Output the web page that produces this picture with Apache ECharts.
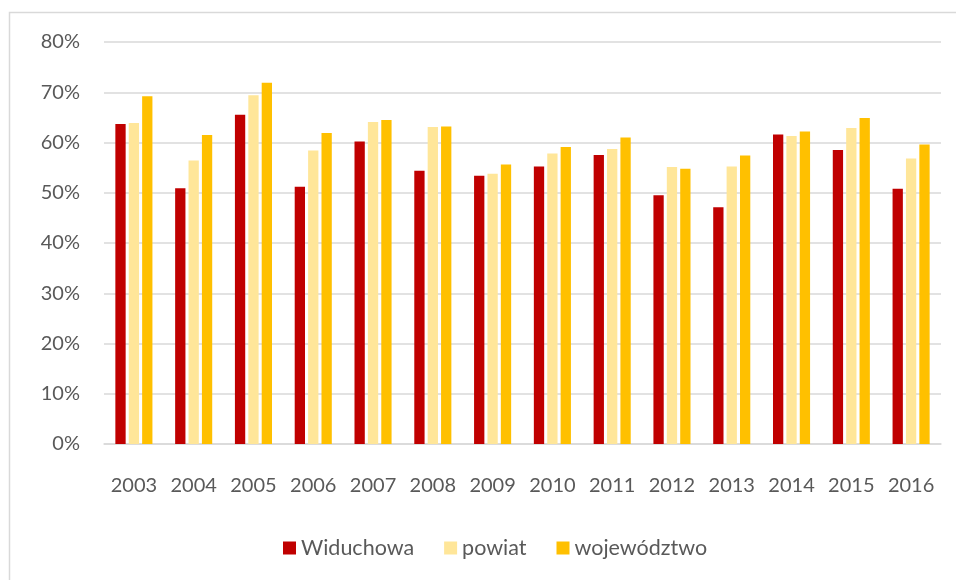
<!DOCTYPE html>
<html>
<head>
<meta charset="utf-8">
<script src="https://cdn.jsdelivr.net/npm/echarts@6/dist/echarts.min.js"></script>
<style>
  html, body { margin: 0; padding: 0; background: #fff; }
  #chart { width: 956px; height: 580px; }
</style>
</head>
<body>
<div id="chart"></div>
<script>
// lata
const years = ['2003', '2004', '2005', '2006', '2007', '2008', '2009',
               '2010', '2011', '2012', '2013', '2014', '2015', '2016'];

// udział w %
const widuchowa   = [63.7, 50.9, 65.5, 51.2, 60.2, 54.4, 53.4, 55.2, 57.5, 49.5, 47.1, 61.6, 58.5, 50.8];
const powiat      = [63.9, 56.4, 69.4, 58.4, 64.1, 63.1, 53.8, 57.8, 58.7, 55.1, 55.2, 61.3, 62.9, 56.8];
const wojewodztwo = [69.2, 61.5, 71.9, 61.9, 64.5, 63.2, 55.6, 59.1, 61.0, 54.8, 57.4, 62.2, 64.9, 59.6];

const yTicks = [0, 10, 20, 30, 40, 50, 60, 70, 80];

const textColor = '#595959';
const font = 'Lato, "Open Sans", sans-serif';

let chart = echarts.init(document.getElementById('chart'), null, {renderer: 'canvas'});

let option = {
    animation: false,
    textStyle: {fontFamily: font},
    graphic: [{
        type: 'rect',
        shape: {x: 9.5, y: 12.5, width: 960, height: 580},
        style: {fill: 'none', stroke: '#d9d9d9', lineWidth: 1.5},
        silent: true
    }],
    grid: {left: 104, right: 15, top: 42, bottom: 136},
    legend: {
        bottom: 16,
        left: 278,
        itemWidth: 13,
        itemHeight: 13,
        itemGap: 30,
        icon: 'rect',
        textStyle: {color: textColor, fontSize: 21.5, fontFamily: font},
        data: ['Widuchowa', 'powiat', 'województwo']
    },
    xAxis: {
        type: 'category',
        data: years,
        axisTick: {show: false},
        axisLine: {lineStyle: {color: '#d9d9d9', width: 1.5}},
        axisLabel: {color: textColor, fontSize: 20, margin: 32, interval: 0}
    },
    yAxis: {
        type: 'value',
        min: yTicks[0],
        max: yTicks[yTicks.length - 1],
        interval: 10,
        axisLine: {show: false},
        axisTick: {show: false},
        splitLine: {lineStyle: {color: '#d9d9d9', width: 1.5}},
        axisLabel: {color: textColor, fontSize: 20, margin: 24, formatter: '{value}%'}
    },
    series: [
        {name: 'Widuchowa', type: 'bar', data: widuchowa, barWidth: 10.3, barGap: '30%',
            itemStyle: {color: '#C00000'}},
        {name: 'powiat', type: 'bar', data: powiat, barWidth: 10.3, barGap: '30%',
            itemStyle: {color: '#FFE699'}},
        {name: 'województwo', type: 'bar', data: wojewodztwo, barWidth: 10.3, barGap: '30%',
            itemStyle: {color: '#FFC000'}}
    ]
};

chart.setOption(option);
</script>
</body>
</html>
